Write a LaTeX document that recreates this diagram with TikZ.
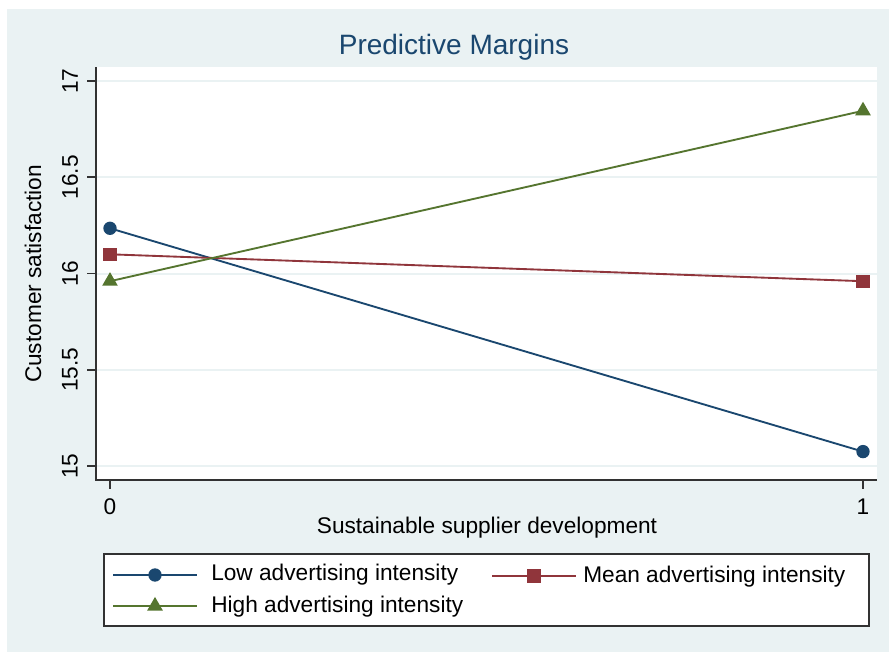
\documentclass[tikz,border=0pt]{standalone}
\usepackage{fontspec}
\setmainfont{Liberation Sans}
\usetikzlibrary{shapes.geometric}

\definecolor{stnavy}{RGB}{26,71,111}
\definecolor{stmaroon}{RGB}{144,53,59}
\definecolor{stgreen}{RGB}{85,117,47}
\definecolor{stbg}{RGB}{234,242,243}
\definecolor{staxis}{RGB}{50,50,50}

\tikzset{
  axisline/.style={draw=staxis, line width=1.4pt},
  gridline/.style={draw=stbg, line width=1.5pt},
  ticklabel/.style={font=\fontsize{17}{19}\selectfont, inner sep=0pt},
  lowline/.style={draw=stnavy, line width=1.4pt},
  meanline/.style={draw=stmaroon, line width=1.4pt},
  highline/.style={draw=stgreen, line width=1.4pt},
  lowmark/.style={circle, fill=stnavy, inner sep=0pt, minimum size=10pt},
  meanmark/.style={rectangle, fill=stmaroon, inner sep=0pt, minimum size=9.8pt},
  highmark/.style={regular polygon, regular polygon sides=3, fill=stgreen, inner sep=0pt, minimum size=13.6pt},
  legtext/.style={font=\fontsize{17}{19}\selectfont, anchor=west, inner sep=0pt}
}

\begin{document}
\begin{tikzpicture}[x=0.75pt, y=-0.75pt]
\useasboundingbox (0,0) rectangle (889,653);
% graph region and plot region
\fill[stbg] (7,9) rectangle (889,652);
\fill[white] (96,67) rectangle (877,480);

\node[font=\fontsize{21}{24}\selectfont, text=stnavy] (title) at (454,47) {Predictive Margins};

% y grid, ticks and labels
\foreach \v/\py in {15/466, 15.5/369.75, 16/273.5, 16.5/177.25, 17/81}{
  \draw[gridline] (97,\py) -- (877,\py);
  \draw[axisline, line width=1.2pt] (87,\py) -- (96,\py);
  \node[ticklabel, rotate=90] (ytick\v) at (70,\py) {\v};
}
% x ticks and labels
\foreach \v/\px in {0/110, 1/863}{
  \draw[axisline, line width=1.2pt] (\px,480) -- (\px,489);
  \node[ticklabel] (xtick\v) at (\px,507) {\v};
}
\draw[axisline] (96,67) -- (96,480) -- (877,480);

\node[ticklabel, rotate=90] (ylab) at (33,274) {Customer satisfaction};
\node[ticklabel] (xlab) at (487,528) {Sustainable supplier development};

% margins
\coordinate (low0) at (110,228.3);
\coordinate (low1) at (863,451.6);
\coordinate (mean0) at (110,254.3);
\coordinate (mean1) at (863,281.2);
\coordinate (high0) at (110,281.2);
\coordinate (high1) at (863,110.8);
\draw[lowline] (low0) -- (low1);
\draw[meanline] (mean0) -- (mean1);
\draw[highline] (high0) -- (high1);
\foreach \p in {0,1}{
  \node[lowmark] at (low\p) {};
  \node[meanmark] at (mean\p) {};
  \node[highmark] at (high\p) {};
}

% legend
\draw[fill=white, draw=staxis, line width=1.3pt] (104,554) rectangle (869,626);
\coordinate (la) at (113,575);
\coordinate (lb) at (197,575);
\coordinate (ma) at (492,576);
\coordinate (mb) at (576,576);
\coordinate (ha) at (113,606);
\coordinate (hb) at (197,606);
\draw[lowline] (la) -- (lb);
\draw[meanline] (ma) -- (mb);
\draw[highline] (ha) -- (hb);
\node[lowmark] (lowkey) at (155,575) {};
\node[meanmark] (meankey) at (534,576) {};
\node[highmark] (highkey) at (155,606) {};
\node[legtext] (lowtxt) at (211,575) {Low advertising intensity};
\node[legtext] (meantxt) at (583,577) {Mean advertising intensity};
\node[legtext] (hightxt) at (211,607) {High advertising intensity};
\end{tikzpicture}
\end{document}
